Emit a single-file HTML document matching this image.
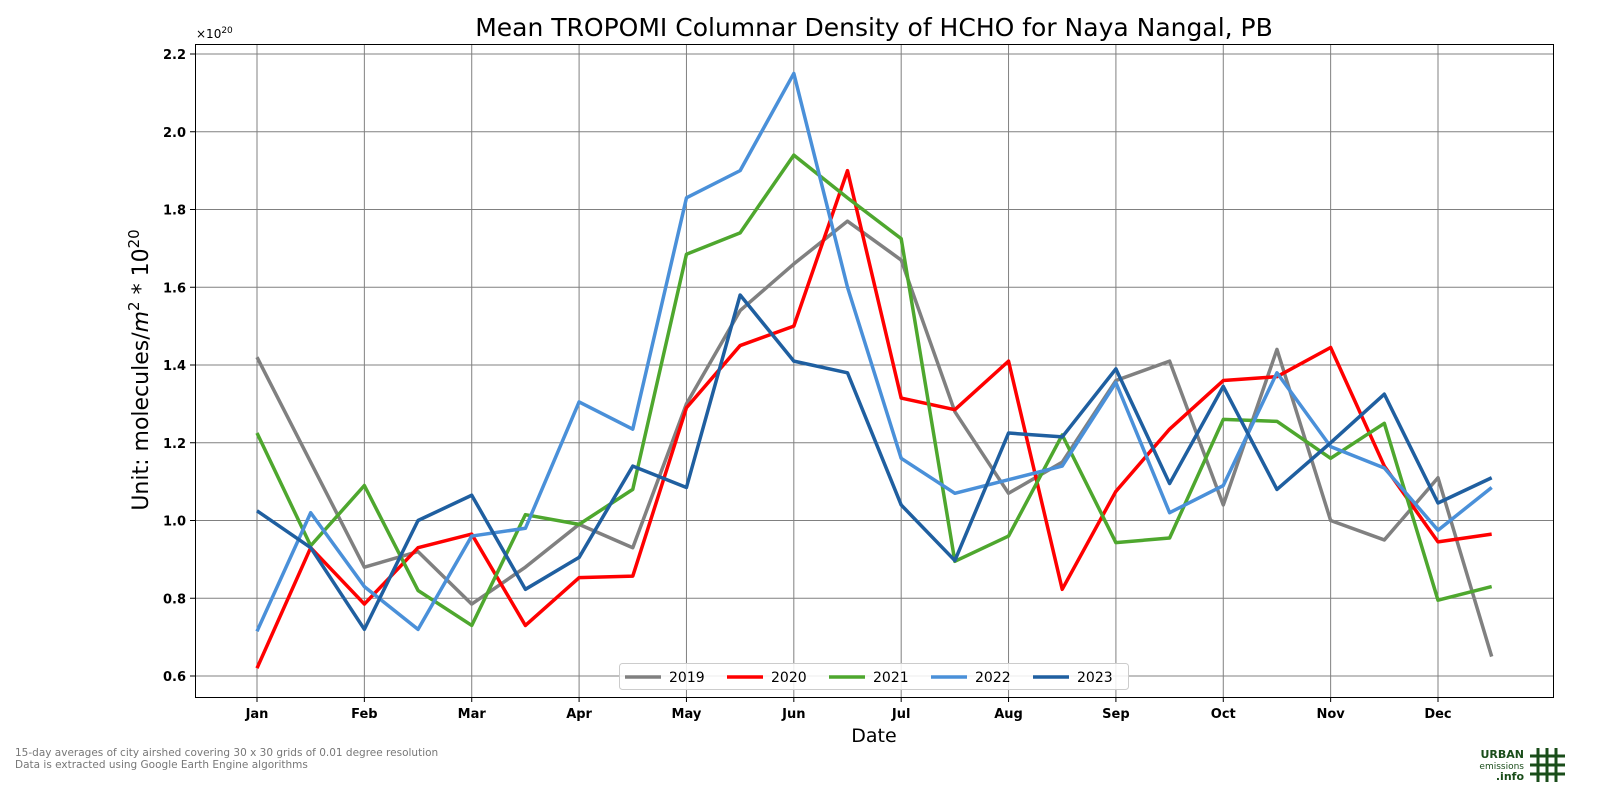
<!DOCTYPE html>
<html><head><meta charset="utf-8"><style>
body{margin:0;background:#fff;font-family:"Liberation Sans","DejaVu Sans",sans-serif;}
svg text{font-family:"DejaVu Sans","Liberation Sans",sans-serif;}
</style></head><body>
<svg id="chart" width="1600" height="800" xmlns="http://www.w3.org/2000/svg">
<text x="874" y="36" font-size="25" text-anchor="middle">Mean TROPOMI Columnar Density of HCHO for Naya Nangal, PB</text>
<g id="grid"></g>
<g id="series"></g>
<rect x="195.5" y="44.5" width="1358" height="653" fill="none" stroke="#000" stroke-width="1"/>
<g id="ticks"></g>
<text x="196" y="38" font-size="12">×10<tspan dy="-5" font-size="9">20</tspan></text>
<text x="874" y="742" font-size="19" text-anchor="middle">Date</text>
<text transform="translate(148,370) rotate(-90)" font-size="22" text-anchor="middle">Unit: molecules/<tspan font-style="italic">m</tspan><tspan dy="-9" font-size="15">2</tspan><tspan dy="9"> * 10</tspan><tspan dy="-9" font-size="15">20</tspan></text>
<g id="legend"></g>
<text x="15" y="756" font-size="10.5" fill="#777">15-day averages of city airshed covering 30 x 30 grids of 0.01 degree resolution</text>
<text x="15" y="768" font-size="10.5" fill="#777">Data is extracted using Google Earth Engine algorithms</text>
<g>
<text x="1524" y="758" font-size="11" font-weight="bold" fill="#1a4d1a" text-anchor="end">URBAN</text>
<text x="1524" y="769" font-size="9" fill="#1a4d1a" text-anchor="end">emissions</text>
<text x="1524" y="780" font-size="11" font-weight="bold" fill="#1a4d1a" text-anchor="end">.info</text>
<g stroke="#1a4d1a" stroke-width="3"><line x1="1538" y1="748" x2="1538" y2="782"/><line x1="1547" y1="748" x2="1547" y2="782"/><line x1="1556" y1="748" x2="1556" y2="782"/><line x1="1530" y1="756" x2="1565" y2="756"/><line x1="1530" y1="765" x2="1565" y2="765"/><line x1="1530" y1="774" x2="1565" y2="774"/></g>
</g>
</svg>
<script>
const months=["Jan","Feb","Mar","Apr","May","Jun","Jul","Aug","Sep","Oct","Nov","Dec"];
const yTicks=[0.6,0.8,1.0,1.2,1.4,1.6,1.8,2.0,2.2];
const years=["2019","2020","2021","2022","2023"];
const colors=["#808080","#ff0000","#4ea72e","#4a90d9","#1f5fa0"];
const s2019=[1.42,1.15,0.88,0.92,0.785,0.88,0.99,0.93,1.30,1.54,1.66,1.77,1.67,1.28,1.07,1.15,1.36,1.41,1.04,1.44,1.0,0.95,1.11,0.65];
const s2020=[0.62,0.93,0.785,0.93,0.965,0.73,0.853,0.857,1.29,1.45,1.50,1.90,1.315,1.285,1.41,0.823,1.075,1.235,1.36,1.37,1.445,1.14,0.945,0.965];
const s2021=[1.225,0.935,1.09,0.82,0.73,1.015,0.99,1.08,1.685,1.74,1.94,1.83,1.725,0.895,0.96,1.22,0.943,0.955,1.26,1.255,1.16,1.25,0.795,0.83];
const s2022=[0.715,1.02,0.83,0.72,0.96,0.98,1.305,1.235,1.83,1.90,2.15,1.60,1.16,1.07,1.105,1.14,1.355,1.02,1.09,1.38,1.19,1.135,0.975,1.085];
const s2023=[1.025,0.93,0.72,1.0,1.065,0.823,0.905,1.14,1.085,1.58,1.41,1.38,1.04,0.897,1.225,1.215,1.39,1.095,1.345,1.08,1.20,1.325,1.045,1.11];
const allSeries=[s2019,s2020,s2021,s2022,s2023];
const NS="http://www.w3.org/2000/svg";
function X(i){return 257+i*(1438-257)/22;}
function Y(v){return 676-(v-0.6)*(676-54)/1.6;}
function mk(t,a,p){const e=document.createElementNS(NS,t);for(const k in a)e.setAttribute(k,a[k]);p.appendChild(e);return e;}
const grid=document.getElementById('grid'),ticks=document.getElementById('ticks'),ser=document.getElementById('series'),leg=document.getElementById('legend');
months.forEach((m,i)=>{const x=X(i*2);
 const g=mk('line',{x1:x,x2:x,y1:45,y2:697,stroke:'#808080','stroke-width':1},grid);
 
 
 mk('line',{x1:x,x2:x,y1:697,y2:702,stroke:'#000'},ticks);
 const t=mk('text',{x:x,y:718,'font-size':13,'font-weight':'bold','text-anchor':'middle'},ticks);t.textContent=m;
 
 
});
yTicks.forEach(v=>{const y=Y(v);
 const g=mk('line',{x1:196,x2:1553,y1:y,y2:y,stroke:'#808080','stroke-width':1},grid);
 
 
 mk('line',{x1:190,x2:195,y1:y,y2:y,stroke:'#000'},ticks);
 const t=mk('text',{x:186,y:y+5,'font-size':13,'font-weight':'bold','text-anchor':'end'},ticks);t.textContent=v.toFixed(1);
 
 
});
allSeries.forEach((s,k)=>{
 const p=mk('polyline',{points:s.map((v,i)=>X(i)+','+Y(v)).join(' '),fill:'none',stroke:colors[k],'stroke-width':3.5,'stroke-linejoin':'round'},ser);
 
 
});
const lb=mk('rect',{x:619.5,y:663.5,width:509,height:26,rx:3,fill:'#fff','fill-opacity':0.85,stroke:'#ccc'},leg);
years.forEach((yr,k)=>{const x0=625+k*102;
 const g=mk('g',{},leg);
 
 
 mk('line',{x1:x0,x2:x0+36,y1:677,y2:677,stroke:colors[k],'stroke-width':3.5},g);
 const t=mk('text',{x:x0+44,y:682,'font-size':14},g);t.textContent=yr;
});
</script>
</body></html>
